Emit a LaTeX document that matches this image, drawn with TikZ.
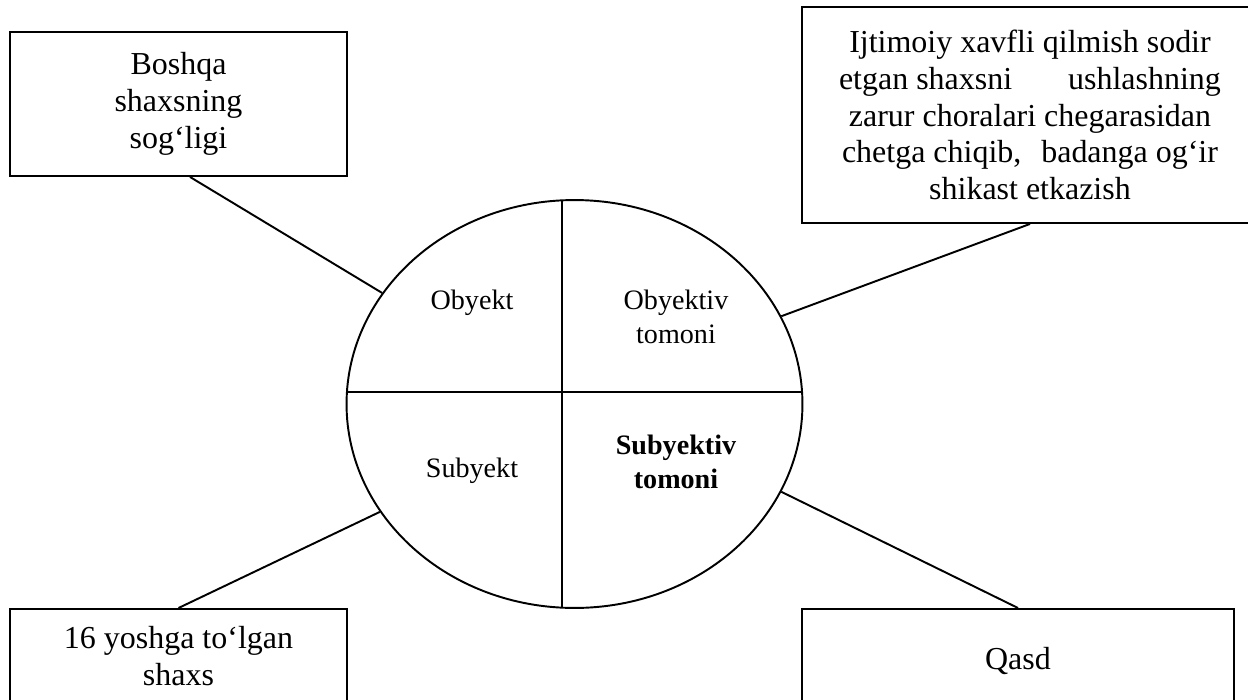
\documentclass[tikz,border=0pt]{standalone}
\usepackage{fontspec}
\setmainfont{Liberation Serif}
\usetikzlibrary{shapes.geometric}
\tikzstyle{box}=[rectangle,draw=black,line width=1.1pt,inner sep=0pt,align=center,font=\fontsize{18.2}{21}\selectfont]
\tikzstyle{openbox}=[box,anchor=north,text depth=2.4cm]
\tikzstyle{part}=[align=center,inner sep=0pt,font=\fontsize{16}{19.3}\selectfont]
\tikzstyle{ring}=[ellipse,draw=black,line width=1.1pt,inner sep=0pt,minimum width=9.12cm,minimum height=8.16cm]

\begin{document}
\begin{tikzpicture}[x=0.02cm,y=-0.02cm,line width=1.1pt]
		\useasboundingbox (0,0) rectangle (1248,700);
		\clip (0,0) rectangle (1248,700);
		
		\node (e) at (574.5,404) [ring] {};
		\node (o) at (472,303) [part] {Obyekt};
		\node (ot) at (676,317) [part] {Obyektiv\\tomoni};
		\node (s) at (472,471) [part] {Subyekt};
		\node (st) at (676,462) [part] {\bfseries Subyektiv\\\bfseries tomoni};
		
		\coordinate (w) at (346.4,392);
		\coordinate (k) at (802.6,392);
		\coordinate (n) at (562,200.3);
		\coordinate (m) at (562,607.7);
		
		\node (a) at (178.5,104) [box,minimum width=6.74cm,minimum height=2.88cm] {Boshqa\\shaxsning\\sog‘ligi};
		\node (b) at (1030,115) [box,minimum width=9.12cm,minimum height=4.32cm] {Ijtimoiy xavfli qilmish sodir\\\makebox[7.64cm]{etgan shaxsni\hfill ushlashning}\\zarur choralari chegarasidan\\\makebox[7.52cm]{chetga chiqib,\hfill badanga og‘ir}\\shikast etkazish};
		\node (c) at (178.5,608) [openbox,minimum width=6.74cm,inner ysep=0.34cm] {16 yoshga to‘lgan\\shaxs};
		\node (d) at (1018,608) [openbox,minimum width=8.64cm,inner ysep=0.76cm] {Qasd};
		
		\draw (w)--(k);
		\draw (n)--(m);
		
		\draw ([xshift=0.23cm]a.south)--(e.150.7);
		\draw (b.south)--(e.23.1);
		\draw (c.north)--(e.209.2);
		\draw (d.north)--(e.337.7);
	\end{tikzpicture}
\end{document}
